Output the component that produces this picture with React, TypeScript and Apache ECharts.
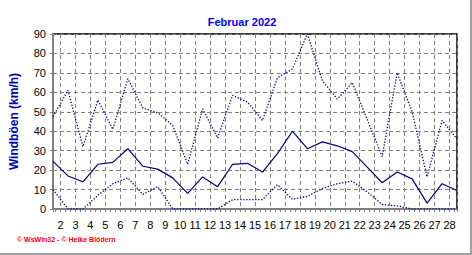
import React, { useEffect, useRef } from "react";
import * as echarts from "echarts";

const title = "Februar 2022";
const yAxisTitle = "Windböen (km/h)";
const credit = "© WsWin32 - © Heike Blödern";
const days = [1, 2, 3, 4, 5, 6, 7, 8, 9, 10, 11, 12, 13, 14, 15, 16, 17, 18, 19, 20, 21, 22, 23, 24, 25, 26, 27, 28];
const maxGust = [47.5, 61, 32, 56, 41, 67, 52, 49.5, 43, 23, 51.5, 36.5, 58.5, 55, 45.5, 67.5, 72, 90, 66, 56.5, 65, 46, 27, 70, 50, 16.5, 45.5, 36];
const meanGust = [24.5, 17, 14, 23, 24, 31, 22, 20.5, 16, 8, 16.5, 11.5, 23, 23.5, 19, 28.5, 40, 31, 34.5, 32.5, 29.5, 21.5, 13.5, 19, 15.5, 3, 13, 9.5];
const minGust = [10, 0, 0, 7, 13, 16, 7.5, 11.5, 0, 0, 0, 0, 4.8, 4.8, 4.8, 12.5, 5, 6.5, 10.5, 13, 14.3, 8.8, 2.3, 1.6, 0, 0, 0, 0];

const NAVY = "#00008B";
const FONT = "Liberation Sans, Arial, sans-serif";

export default function App() {
  const ref = useRef<HTMLDivElement>(null);
  useEffect(() => {
    if (!ref.current) return;
    const chart = echarts.init(ref.current, undefined, { renderer: "svg" });
    // points are placed at the middle of each day (day start = label position)
    const pts = (arr: number[]) => days.map((d, i) => [d + 0.5, arr[i]]);
    chart.setOption({
      animation: false,
      backgroundColor: "#fff",
      title: {
        text: title,
        left: 237,
        top: 11,
        textAlign: "center",
        textStyle: { color: "#0000FF", fontSize: 11, fontWeight: "bold", fontFamily: FONT },
      },
      grid: {
        left: 51,
        top: 34,
        width: 406,
        height: 175,
        show: true,
        borderColor: "#000",
        borderWidth: 1.5,
        backgroundColor: "transparent",
      },
      xAxis: {
        type: "value",
        min: 1.5,
        max: 28.5,
        splitNumber: 27,
        minInterval: 1,
        maxInterval: 1,
        axisLine: { show: true, lineStyle: { color: "#808080", width: 2 } },
        axisTick: { show: true, length: 3, lineStyle: { color: "#808080", width: 1 } },
        minorTick: { show: true, splitNumber: 3, length: 3, lineStyle: { color: "#808080", width: 1 } },
        axisLabel: {
          color: "#000",
          fontSize: 11,
          fontFamily: FONT,
          margin: 10,
          formatter: (v: number) => (Math.abs(v - Math.round(v)) < 1e-6 ? String(Math.round(v)) : ""),
        },
        splitLine: { show: true, lineStyle: { color: "#808080", type: [4, 3], width: 1 } },
      },
      yAxis: {
        type: "value",
        min: 0,
        max: 90,
        interval: 10,
        name: yAxisTitle,
        nameLocation: "middle",
        nameGap: 33,
        nameTextStyle: { color: "#0000B0", fontSize: 12, fontWeight: "bold", fontFamily: FONT },
        axisLine: { show: true, lineStyle: { color: "#808080", width: 2 } },
        axisTick: { show: true, length: 3, lineStyle: { color: "#808080", width: 1 } },
        axisLabel: { color: "#000", fontSize: 11, fontFamily: FONT, margin: 7 },
        splitLine: { show: true, lineStyle: { color: "#808080", type: [4, 3], width: 1 } },
      },
      series: [
        {
          name: "max",
          type: "line",
          data: pts(maxGust),
          symbol: "none",
          lineStyle: { color: NAVY, width: 1.3, type: [1.3, 1.7] },
          z: 3,
        },
        {
          name: "mean",
          type: "line",
          data: pts(meanGust),
          symbol: "none",
          lineStyle: { color: NAVY, width: 1.2 },
          z: 4,
        },
        {
          name: "min",
          type: "line",
          data: pts(minGust),
          symbol: "none",
          lineStyle: { color: NAVY, width: 1.3, type: [1.3, 1.7] },
          z: 3,
        },
      ],
      graphic: [
        {
          type: "text",
          left: 17,
          top: 236,
          style: { text: credit, fill: "#FF0000", fontSize: 7, fontWeight: "bold", fontFamily: FONT },
        },
        {
          type: "line",
          shape: { x1: 0, y1: 254, x2: 472, y2: 254 },
          style: { stroke: "#a0a0a0", lineWidth: 2 },
        },
        {
          type: "line",
          shape: { x1: 471, y1: 0, x2: 471, y2: 255 },
          style: { stroke: "#a0a0a0", lineWidth: 2 },
        },
      ],
    });
    return () => chart.dispose();
  }, []);
  return (
    <div
      ref={ref}
      style={{ position: "fixed", left: 0, top: 0, width: 472, height: 255 }}
    />
  );
}
